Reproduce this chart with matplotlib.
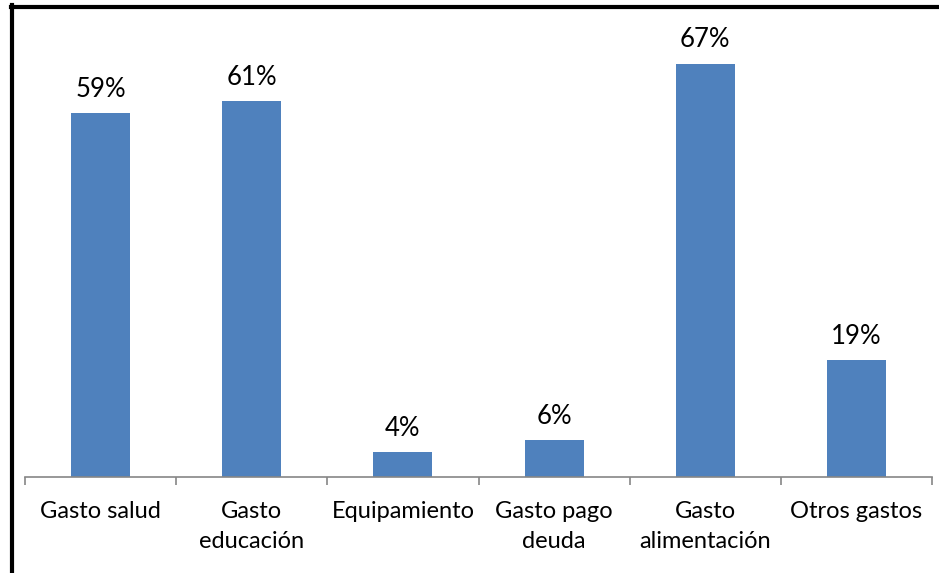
import matplotlib
matplotlib.use("Agg")
import matplotlib.pyplot as plt
from matplotlib.lines import Line2D
import numpy as np

categories = ["Gasto salud", "Gasto\neducación", "Equipamiento", "Gasto pago\ndeuda", "Gasto\nalimentación", "Otros gastos"]
values = [59, 61, 4, 6, 67, 19]
labels = ["59%", "61%", "4%", "6%", "67%", "19%"]

W, H = 939, 573
fig = plt.figure(figsize=(W/100, H/100), dpi=100)
plt.rcParams['font.family'] = ['Lato', 'DejaVu Sans']

left, right, bottom, top = 25, 932, 477, 20
ax = fig.add_axes([left/W, 1-bottom/H, (right-left)/W, (bottom-top)/H])
x = np.arange(len(categories))
ax.bar(x, values, width=0.39, color="#4F81BD", zorder=2)
ax.set_xlim(-0.5, len(categories)-0.5)
ax.set_ylim(0, (bottom-top)/6.17)
for xi, v, l in zip(x, values, labels):
    ax.annotate(l, (xi, v), xytext=(0, 8), textcoords="offset points", ha="center", va="bottom", fontsize=18.5, color="black")
for s in ["top", "right", "left"]:
    ax.spines[s].set_visible(False)
ax.spines["bottom"].set_color("#868686")
ax.spines["bottom"].set_linewidth(1.2)
ax.set_yticks([])
ax.set_xticks(np.arange(-0.5, len(categories), 1.0))
ax.set_xticklabels([])
ax.tick_params(axis="x", which="major", direction="out", length=6, color="#868686", width=1.2)
ax.set_xticks(x, minor=True)
ax.set_xticklabels(categories, minor=True, fontsize=17, linespacing=1.5)
ax.tick_params(axis="x", which="minor", length=0, pad=17.5)

# frame lines
fig.add_artist(Line2D([12/W, 12/W], [0, 1-5/H], transform=fig.transFigure, color="black", lw=3))
fig.add_artist(Line2D([11/W, 1], [1-6.5/H, 1-6.5/H], transform=fig.transFigure, color="black", lw=3))

fig.savefig("out.png", dpi=100)
